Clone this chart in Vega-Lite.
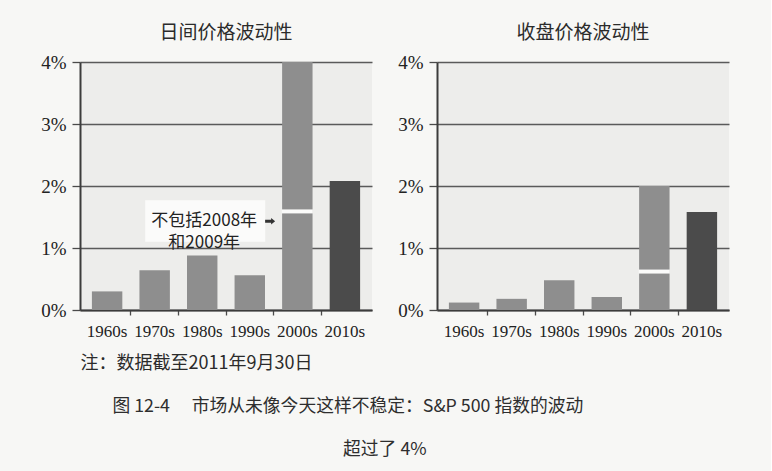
{
  "$schema": "https://vega.github.io/schema/vega-lite/v6.json",
  "background": "#f7f7f5",
  "padding": {"left": 40, "top": 24, "right": 42, "bottom": 12},
  "datasets": {
    "intraday": [
      {"decade": "1960s", "vol": 0.30, "measure": "全部"},
      {"decade": "1970s", "vol": 0.64, "measure": "全部"},
      {"decade": "1980s", "vol": 0.88, "measure": "全部"},
      {"decade": "1990s", "vol": 0.56, "measure": "全部"},
      {"decade": "2000s", "vol": 4.0, "measure": "全部"},
      {"decade": "2000s", "vol": 1.59, "measure": "不包括2008年和2009年"},
      {"decade": "2010s", "vol": 2.08, "measure": "全部"}
    ],
    "closing": [
      {"decade": "1960s", "vol": 0.12, "measure": "全部"},
      {"decade": "1970s", "vol": 0.18, "measure": "全部"},
      {"decade": "1980s", "vol": 0.48, "measure": "全部"},
      {"decade": "1990s", "vol": 0.21, "measure": "全部"},
      {"decade": "2000s", "vol": 2.0, "measure": "全部"},
      {"decade": "2000s", "vol": 0.62, "measure": "不包括2008年和2009年"},
      {"decade": "2010s", "vol": 1.58, "measure": "全部"}
    ]
  },
  "title": {
    "text": "超过了 4%",
    "orient": "bottom",
    "anchor": "middle",
    "font": "Noto Sans CJK SC",
    "fontSize": 17.8,
    "fontWeight": "normal",
    "color": "#2e2e2e",
    "offset": 25
  },
  "vconcat": [
    {
      "title": {
        "text": "图 12-4　 市场从未像今天这样不稳定：S&P 500 指数的波动",
        "orient": "bottom",
        "anchor": "middle",
        "dx": -37,
        "font": "Noto Sans CJK SC",
        "fontSize": 17.8,
        "fontWeight": "normal",
        "color": "#2e2e2e",
        "offset": 26
      },
      "spacing": 25,
      "hconcat": [
        {
          "title": "日间价格波动性",
          "width": 292,
          "height": 248,
          "layer": [
            {
              "data": {"name": "intraday"},
              "transform": [{"filter": "datum.measure === '全部'"}],
              "mark": {"type": "bar"},
              "encoding": {
                "x": {
                  "field": "decade",
                  "type": "nominal",
                  "scale": {"paddingInner": 0.36, "paddingOuter": 0.25},
                  "axis": {
                    "labelAngle": 0,
                    "bandPosition": -0.28,
                    "tickOpacity": {"condition": {"test": "datum.value === '1960s'", "value": 0}, "value": 1},
                    "title": "注：数据截至2011年9月30日",
                    "titleAnchor": "start",
                    "titleAlign": "left",
                    "titleFontSize": 18,
                    "titlePadding": 15
                  }
                },
                "y": {
                  "field": "vol",
                  "type": "quantitative",
                  "scale": {"domain": [0, 4], "nice": false},
                  "axis": {"values": [0, 1, 2, 3, 4], "labelExpr": "datum.value + '%'", "title": null, "grid": true}
                },
                "color": {"condition": {"test": "datum.decade === '2010s'", "value": "#4b4b4b"}, "value": "#8e8e8e"}
              }
            },
            {
              "data": {"name": "intraday"},
              "transform": [{"filter": "datum.measure === '不包括2008年和2009年'"}],
              "mark": {"type": "tick", "orient": "horizontal", "thickness": 4, "size": 31, "color": "#fbfbfa", "opacity": 1},
              "encoding": {
                "x": {"field": "decade", "type": "nominal"},
                "y": {"field": "vol", "type": "quantitative"}
              }
            },
            {
              "data": {"values": [{"label": "不包括2008年\n和2009年"}]},
              "layer": [
                {
                  "mark": {"type": "bar", "width": 120, "color": "#fbfbfa", "xOffset": 3},
                  "encoding": {
                    "x": {"datum": "1980s", "type": "nominal"},
                    "y": {"datum": 1.10, "type": "quantitative"},
                    "y2": {"datum": 1.77}
                  }
                },
                {
                  "mark": {"type": "text", "font": "Noto Sans CJK SC", "fontSize": 17, "lineBreak": "\n", "lineHeight": 21.5, "align": "center", "baseline": "middle", "dx": 2, "color": "#222222"},
                  "encoding": {
                    "x": {"datum": "1980s", "type": "nominal"},
                    "y": {"datum": 1.43, "type": "quantitative"},
                    "text": {"field": "label"}
                  }
                },
                {
                  "mark": {"type": "point", "shape": "M -1 -0.3 L 0.2 -0.3 L 0.2 -0.65 L 1 0 L 0.2 0.65 L 0.2 0.3 L -1 0.3 Z", "filled": true, "size": 100, "color": "#333333", "opacity": 1, "xOffset": -12},
                  "encoding": {
                    "x": {"datum": "2000s", "type": "nominal", "bandPosition": 0},
                    "y": {"datum": 1.43, "type": "quantitative"}
                  }
                }
              ]
            }
          ]
        },
        {
          "title": "收盘价格波动性",
          "width": 292,
          "height": 248,
          "layer": [
            {
              "data": {"name": "closing"},
              "transform": [{"filter": "datum.measure === '全部'"}],
              "mark": {"type": "bar"},
              "encoding": {
                "x": {
                  "field": "decade",
                  "type": "nominal",
                  "scale": {"paddingInner": 0.36, "paddingOuter": 0.25},
                  "axis": {
                    "labelAngle": 0,
                    "bandPosition": -0.28,
                    "tickOpacity": {"condition": {"test": "datum.value === '1960s'", "value": 0}, "value": 1},
                    "title": null
                  }
                },
                "y": {
                  "field": "vol",
                  "type": "quantitative",
                  "scale": {"domain": [0, 4], "nice": false},
                  "axis": {"values": [0, 1, 2, 3, 4], "labelExpr": "datum.value + '%'", "title": null, "grid": true}
                },
                "color": {"condition": {"test": "datum.decade === '2010s'", "value": "#4b4b4b"}, "value": "#8e8e8e"}
              }
            },
            {
              "data": {"name": "closing"},
              "transform": [{"filter": "datum.measure === '不包括2008年和2009年'"}],
              "mark": {"type": "tick", "orient": "horizontal", "thickness": 4, "size": 31, "color": "#fbfbfa", "opacity": 1},
              "encoding": {
                "x": {"field": "decade", "type": "nominal"},
                "y": {"field": "vol", "type": "quantitative"}
              }
            }
          ]
        }
      ]
    }
  ],
  "config": {
    "view": {"stroke": null, "fill": "#ededeb"},
    "title": {"font": "Noto Sans CJK SC", "fontSize": 19, "fontWeight": "normal", "color": "#2b2b2b", "offset": 10, "anchor": "middle"},
    "axis": {
      "labelFont": "Liberation Serif",
      "labelColor": "#222222",
      "domainColor": "#3c3c3c",
      "domainWidth": 2,
      "tickColor": "#4a4a4a",
      "tickWidth": 1.3,
      "gridColor": "#5a5a5a",
      "gridWidth": 1.3,
      "titleFont": "Noto Sans CJK SC",
      "titleFontWeight": "normal",
      "titleColor": "#2b2b2b"
    },
    "axisY": {"labelFontSize": 19, "tickSize": 8, "labelPadding": 6},
    "axisX": {"labelFontSize": 17, "tickSize": 5, "labelPadding": 8, "labelOverlap": false}
  }
}
